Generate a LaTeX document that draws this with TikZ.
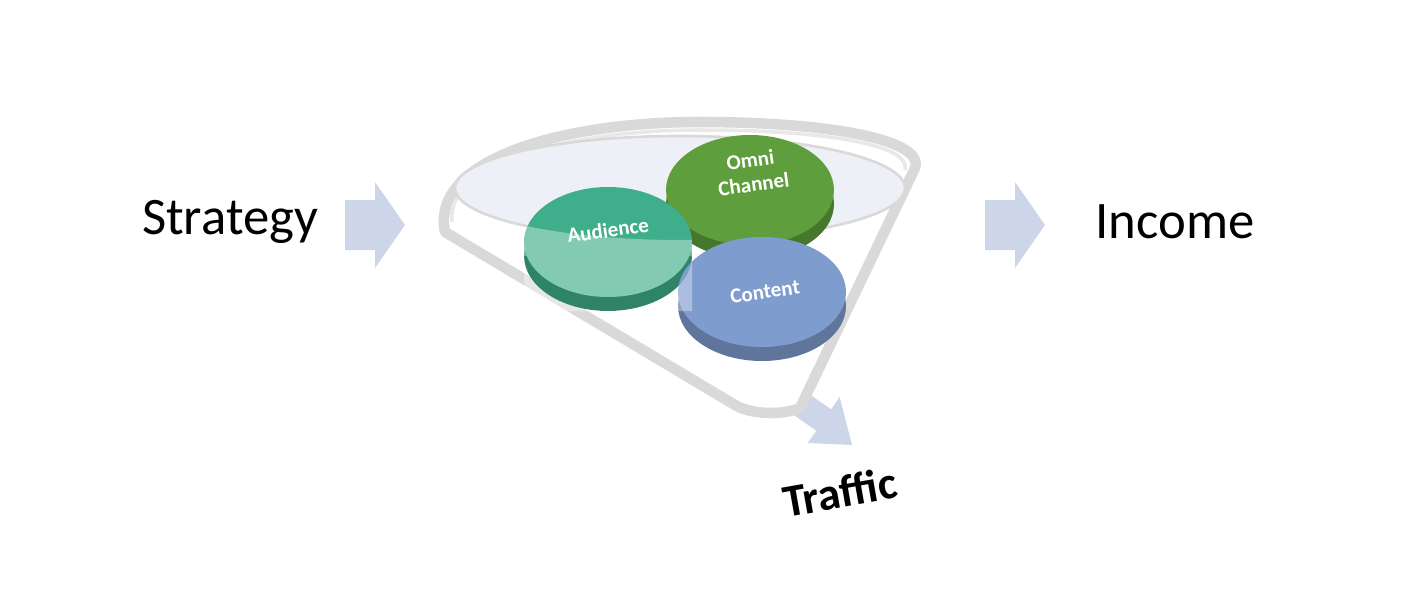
\documentclass[tikz,border=0pt]{standalone}
\usepackage{fontspec}
\setmainfont{Carlito}
\definecolor{arrowblue}{HTML}{CDD5E8}
\definecolor{rimgrey}{HTML}{D9D9D9}
\definecolor{audteal}{HTML}{3FAE8A}
\definecolor{omnigreen}{HTML}{5E9E3C}
\definecolor{contblue}{HTML}{7F9CCF}
\tikzset{
  bigword/.style={font=\fontsize{30}{34}\selectfont},
  discword/.style={text=white, font=\fontsize{12}{14}\selectfont\bfseries},
  blockarrow/.style={fill=arrowblue, draw=none}
}
\begin{document}
\begin{tikzpicture}[x=0.02cm, y=-0.02cm]
\useasboundingbox (0,0) rectangle (1406,615);
% words
\node[bigword] (strategy) at (230,222) {Strategy};
\node[bigword] (income) at (1175,222) {Income};
% arrows
\foreach \ax in {345,985}
  \fill[blockarrow] (\ax,200) -- (\ax+30,200) -- (\ax+30,182) -- (\ax+60,225)
    -- (\ax+30,268) -- (\ax+30,250) -- (\ax,250) -- cycle;
% traffic arrow
\fill[blockarrow] (802.4,389.3) -- (831.1,409.3) -- (839.7,397) -- (852,445)
  -- (807.7,443) -- (816.3,430.7) -- (787.6,410.7) -- cycle;
% funnel body
\fill[white, draw=rimgrey, line width=6pt, line join=round]
  (445,232) .. controls (430,160) and (560,122) .. (700,122)
  .. controls (830,122) and (925,140) .. (915,168)
  -- (800,408) .. controls (780,416) and (750,414) .. (735,405) -- cycle;
\draw[rimgrey!60, line width=2pt]
  (452,222) .. controls (445,165) and (565,130) .. (700,130)
  .. controls (825,130) and (912,145) .. (905,170);
\fill[arrowblue!35, draw=rimgrey, line width=1.5pt]
  (680,188) ellipse [x radius=225, y radius=52];
\node[font=\fontsize{26}{30}\selectfont\bfseries, rotate=10] (traffic) at (840,492) {Traffic};
% discs
\foreach \cx/\cy/\col/\nm in {750/190/omnigreen/omni, 608/242/audteal/aud, 762/292/contblue/cont} {
  \fill[\col!75!black] (\cx,\cy+14) ellipse [x radius=84, y radius=55];
  \fill[\col] (\cx,\cy) ellipse [x radius=84, y radius=55];
}
\begin{scope}
  \clip (608,242) ellipse [x radius=84, y radius=55] (524,256) rectangle (692,311)
    (608,256) ellipse [x radius=84, y radius=55];
  \fill[white, opacity=0.35, even odd rule] (500,150) rectangle (700,330)
    (680,188) ellipse [x radius=225, y radius=52];
\end{scope}
\node[discword, rotate=8] (aud) at (608,230) {Audience};
\node[discword, rotate=8, align=center] (omni) at (752,172) {Omni\\Channel};
\node[discword, rotate=8] (cont) at (765,292) {Content};
\end{tikzpicture}
\end{document}
